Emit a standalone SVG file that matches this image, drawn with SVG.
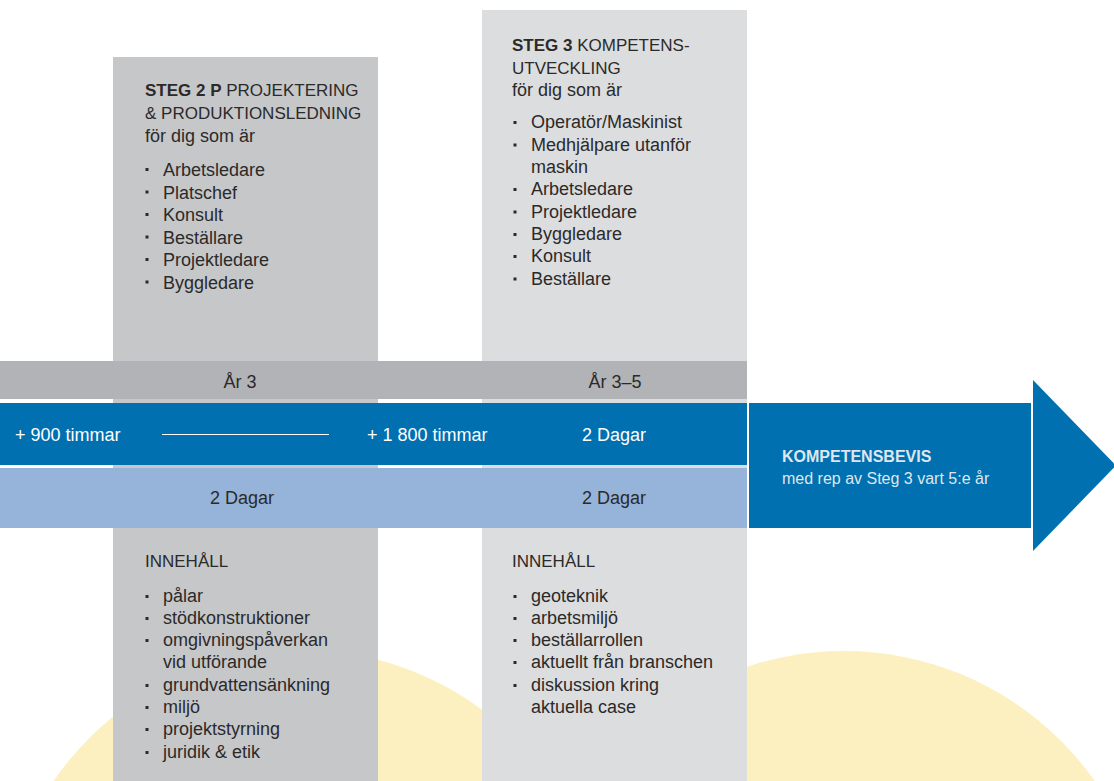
<svg xmlns="http://www.w3.org/2000/svg" width="1114" height="781" viewBox="0 0 1114 781">
<style>
text{font-family:"Liberation Sans",Arial,sans-serif;fill:#2b2a29}
.h{font-size:17px}
.b{font-weight:bold}
.t{font-size:18px}
.w{fill:#ffffff}
.k{fill:#dfe6ee}
.bul{fill:#2b2a29}
</style>
<rect x="0" y="0" width="1114" height="781" fill="#ffffff"/>
<g id="background">
<circle cx="302" cy="951" r="301" fill="#fdf0c0"/>
<circle cx="844" cy="958" r="307" fill="#fdf0c0"/>
</g>
<g id="steg2">
<rect x="113" y="57" width="265" height="730" fill="#c6c7c9"/>
<text class="h" x="145" y="96"><tspan class="b">STEG 2 P</tspan> PROJEKTERING</text>
<text class="h" x="145" y="119">&amp; PRODUKTIONSLEDNING</text>
<text class="t" x="145" y="142">för dig som är</text>
<g class="bul">
<rect x="145.5" y="168" width="3" height="3"/><rect x="145.5" y="190.5" width="3" height="3"/><rect x="145.5" y="213" width="3" height="3"/><rect x="145.5" y="235.5" width="3" height="3"/><rect x="145.5" y="258" width="3" height="3"/><rect x="145.5" y="280.5" width="3" height="3"/>
</g>
<text class="t" x="163" y="176">Arbetsledare</text>
<text class="t" x="163" y="198.5">Platschef</text>
<text class="t" x="163" y="221">Konsult</text>
<text class="t" x="163" y="243.5">Beställare</text>
<text class="t" x="163" y="266">Projektledare</text>
<text class="t" x="163" y="288.5">Byggledare</text>
<text class="h" x="145" y="567">INNEHÅLL</text>
<g class="bul">
<rect x="145.5" y="595" width="3" height="3"/><rect x="145.5" y="617" width="3" height="3"/><rect x="145.5" y="639" width="3" height="3"/><rect x="145.5" y="684" width="3" height="3"/><rect x="145.5" y="706" width="3" height="3"/><rect x="145.5" y="728" width="3" height="3"/><rect x="145.5" y="751" width="3" height="3"/>
</g>
<text class="t" x="163" y="602">pålar</text>
<text class="t" x="163" y="624">stödkonstruktioner</text>
<text class="t" x="163" y="646">omgivningspåverkan</text>
<text class="t" x="163" y="668">vid utförande</text>
<text class="t" x="163" y="691">grundvattensänkning</text>
<text class="t" x="163" y="713">miljö</text>
<text class="t" x="163" y="735">projektstyrning</text>
<text class="t" x="163" y="758">juridik &amp; etik</text>
</g>
<g id="steg3">
<rect x="482" y="10" width="265" height="777" fill="#dcdddf"/>
<text class="h" x="512" y="51"><tspan class="b">STEG 3</tspan> KOMPETENS-</text>
<text class="h" x="512" y="74">UTVECKLING</text>
<text class="t" x="512" y="96">för dig som är</text>
<g class="bul">
<rect x="513.5" y="121" width="3" height="3"/><rect x="513.5" y="143.5" width="3" height="3"/><rect x="513.5" y="188" width="3" height="3"/><rect x="513.5" y="210.5" width="3" height="3"/><rect x="513.5" y="233" width="3" height="3"/><rect x="513.5" y="255" width="3" height="3"/><rect x="513.5" y="277.5" width="3" height="3"/>
</g>
<text class="t" x="531" y="128">Operatör/Maskinist</text>
<text class="t" x="531" y="150.5">Medhjälpare utanför</text>
<text class="t" x="531" y="173">maskin</text>
<text class="t" x="531" y="195">Arbetsledare</text>
<text class="t" x="531" y="217.5">Projektledare</text>
<text class="t" x="531" y="240">Byggledare</text>
<text class="t" x="531" y="262">Konsult</text>
<text class="t" x="531" y="284.5">Beställare</text>
<text class="h" x="512" y="567">INNEHÅLL</text>
<g class="bul">
<rect x="513.5" y="595" width="3" height="3"/><rect x="513.5" y="617" width="3" height="3"/><rect x="513.5" y="639" width="3" height="3"/><rect x="513.5" y="661" width="3" height="3"/><rect x="513.5" y="684" width="3" height="3"/>
</g>
<text class="t" x="531" y="602">geoteknik</text>
<text class="t" x="531" y="624">arbetsmiljö</text>
<text class="t" x="531" y="646">beställarrollen</text>
<text class="t" x="531" y="668">aktuellt från branschen</text>
<text class="t" x="531" y="691">diskussion kring</text>
<text class="t" x="531" y="713">aktuella case</text>
</g>
<g id="year-band">
<rect x="0" y="361" width="747" height="38" fill="#b2b3b6"/>
<text class="t" x="240" y="388" text-anchor="middle">År 3</text>
<text class="t" x="615" y="388" text-anchor="middle">År 3–5</text>
</g>
<g id="hours-band">
<rect x="0" y="403" width="747" height="62" fill="#0070b0"/>
<text class="t w" x="15" y="441">+ 900 timmar</text>
<text class="t w" x="367" y="441">+ 1 800 timmar</text>
<text class="t w" x="614" y="441" text-anchor="middle">2 Dagar</text>
</g>
<g id="days-band">
<rect x="0" y="468" width="747" height="60" fill="#96b4d9"/>
<text class="t" x="242" y="504" text-anchor="middle">2 Dagar</text>
<text class="t" x="614" y="504" text-anchor="middle">2 Dagar</text>
</g>
<g id="connectors">
<line x1="162" y1="434.5" x2="329" y2="434.5" stroke="#ffffff" stroke-width="1"/>
</g>
<g id="kompetensbevis">
<rect x="749" y="403" width="282" height="125" fill="#0070b0"/>
<polygon points="1033,380 1116,465.5 1033,551" fill="#0070b0"/>
<text class="k b" x="782" y="462" font-size="16">KOMPETENSBEVIS</text>
<text class="k" x="782" y="484" font-size="16">med rep av Steg 3 vart 5:e år</text>
</g>
</svg>
